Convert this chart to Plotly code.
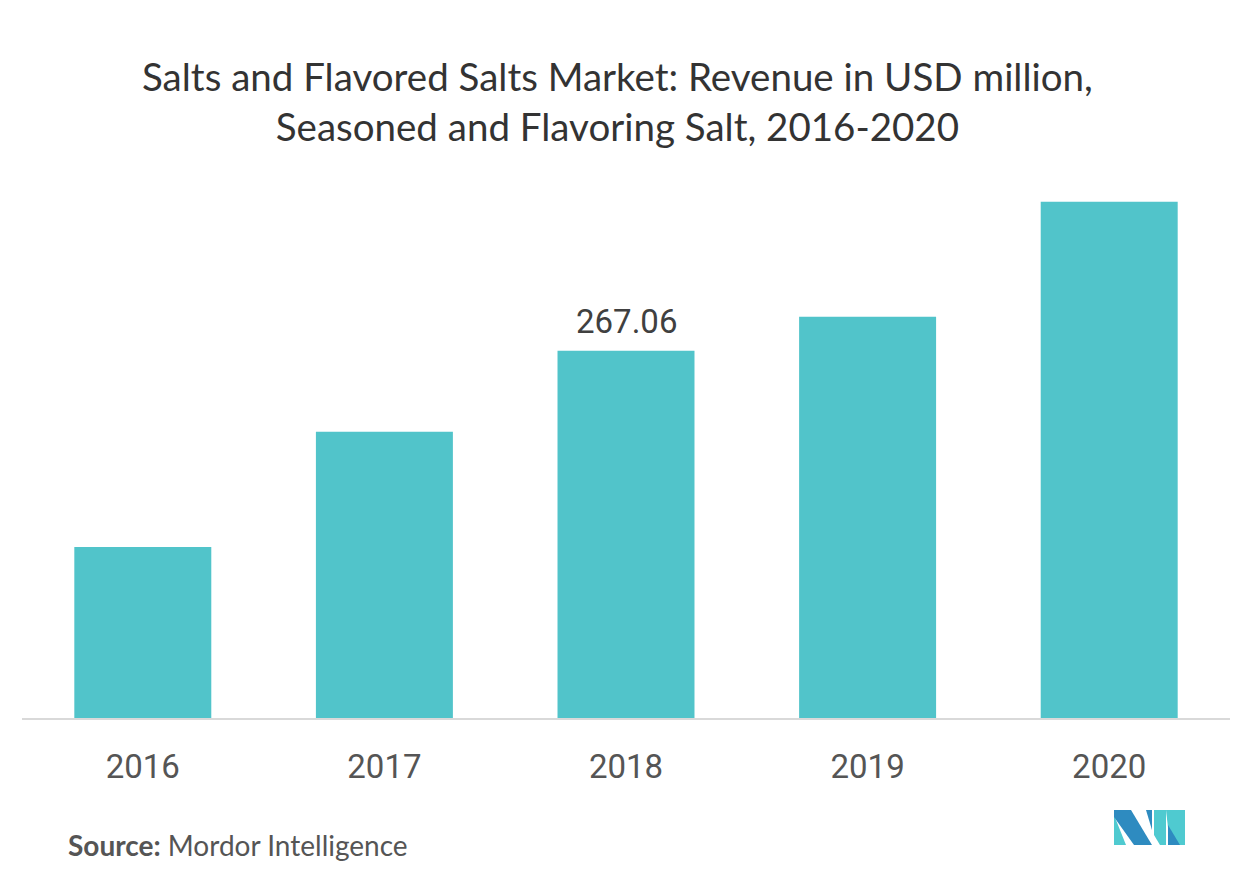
import plotly.graph_objects as go

years = ["2016", "2017", "2018", "2019", "2020"]
revenue = [124.4, 208.1, 267.06, 291.8, 375.5]
label_year = "2018"
label_value = 267.06

fig = go.Figure()
fig.add_trace(go.Bar(
    x=years, y=revenue,
    marker=dict(color="#51c4ca", line=dict(width=0)),
))

W, H = 1253, 880
fig.update_layout(
    width=W, height=H,
    margin=dict(l=22, r=23, t=168, b=162),
    paper_bgcolor="white", plot_bgcolor="white",
    bargap=0.433,
    showlegend=False,
    xaxis=dict(type="category", range=[-0.5, len(years) - 0.5], autorange=False,
               showgrid=False, showline=True, linecolor="#d9d9d9", linewidth=2,
               ticks="", tickfont=dict(family="Roboto", size=33, color="#555555"),
               ticklabelstandoff=18, automargin=False),
    yaxis=dict(visible=False, range=[0, 400], showgrid=False, zeroline=False),
)

fig.add_annotation(
    x=years.index(label_year), y=label_value, text=f"{label_value:.2f}",
    xref="x", yref="y", yanchor="bottom", showarrow=False, yshift=8,
    font=dict(family="Roboto", size=33, color="#404040"),
)

fig.add_annotation(
    text="Salts and Flavored Salts Market: Revenue in USD million,<br>Seasoned and Flavoring Salt, 2016-2020",
    xref="paper", yref="paper", x=(617 - 22) / (W - 45), y=1,
    xanchor="center", yanchor="middle", showarrow=False,
    yshift=(168 - 101), align="center",
    font=dict(family="Lato", size=38.5, color="#333333"),
)
fig.add_annotation(
    text="<b>Source:</b> Mordor Intelligence",
    xref="paper", yref="paper", x=(66 - 22) / (W - 45), y=0,
    xanchor="left", yanchor="middle", showarrow=False,
    yshift=-(845 - 718),
    font=dict(family="Lato", size=28, color="#555555"),
)

# logo in pixel-derived paper coords
def px(x):
    return (x - 22) / (W - 45)
def py(y):
    return (718 - y) / 550

def path(pts):
    return "M " + " L ".join(f"{px(a)},{py(b)}" for a, b in pts) + " Z"

logo = [
    ([(1114, 815), (1114, 845), (1126, 845)], "#4fcad0"),
    ([(1114, 810), (1131, 810), (1152, 845), (1134, 845), (1114, 817)], "#2e8bc0"),
    ([(1146, 810), (1152, 810), (1152, 830)], "#2e8bc0"),
    ([(1154, 810), (1166, 810), (1166, 845), (1160, 845), (1154, 835)], "#4fcad0"),
    ([(1166, 810), (1185, 810), (1185, 845), (1170, 845)], "#4fcad0"),
    ([(1168, 825), (1180, 845), (1168, 845)], "#2e8bc0"),
]
for pts, col in logo:
    fig.add_shape(type="path", path=path(pts), xref="paper", yref="paper",
                  fillcolor=col, line=dict(width=0))

fig.write_html("out.html")
